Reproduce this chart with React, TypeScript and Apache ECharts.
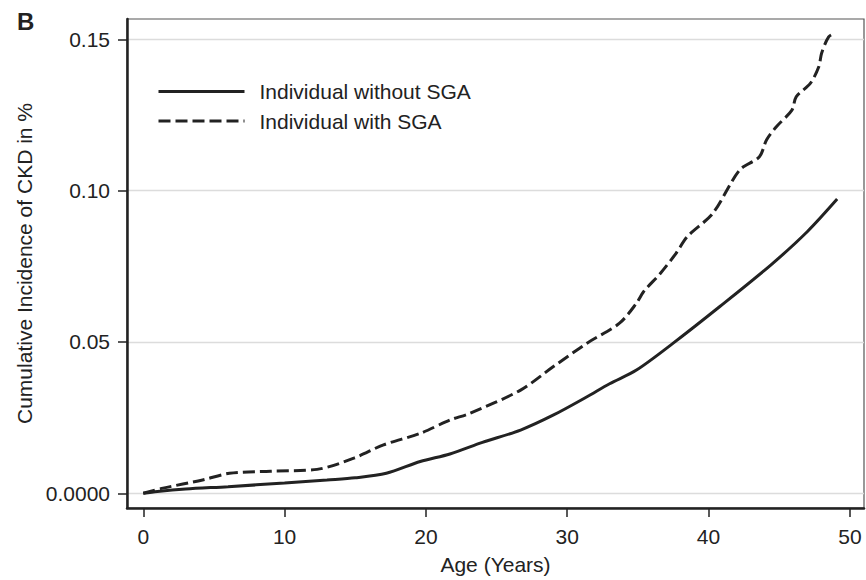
import React, { useEffect, useRef } from "react";
import * as echarts from "echarts";

// Cumulative incidence of CKD by age, read as [age, value] pairs
const withoutSgaAge = [0, 1, 3, 6, 10, 13, 15, 17.2, 19.6, 21.7, 24, 26.7, 29, 31.4, 33, 34.9, 37.5, 40.8, 44.4, 47, 49.1];
const withoutSgaVal = [0, 0.0006, 0.0014, 0.0022, 0.0034, 0.0044, 0.0051, 0.0066, 0.0105, 0.013, 0.0168, 0.0209, 0.0258, 0.0319, 0.0362, 0.0407, 0.0496, 0.0617, 0.0754, 0.0865, 0.0972];

const withSgaAge = [0, 1.4, 4.2, 6.1, 9, 12.3, 14.9, 17, 19.6, 21.7, 23.1, 26.7, 29, 31.4, 33.7, 34.9, 35.4, 36.6, 37.7, 38.5, 40.3, 42.2, 43.6, 44.1, 44.8, 45.9, 46.2, 47.2, 47.8, 48.0, 48.5, 48.95];
const withSgaVal = [0, 0.0017, 0.0044, 0.0066, 0.0073, 0.0079, 0.0116, 0.016, 0.0198, 0.0242, 0.0264, 0.0341, 0.0418, 0.0496, 0.0562, 0.0628, 0.0666, 0.0727, 0.0793, 0.0848, 0.0925, 0.1068, 0.1112, 0.1167, 0.1211, 0.1266, 0.131, 0.1354, 0.1409, 0.1454, 0.1508, 0.152];

const xTicks = [0, 10, 20, 30, 40, 50];
const yTicks = [0, 0.05, 0.1, 0.15];

const seriesNames = ["Individual without SGA", "Individual with SGA"];

const zip = (a: number[], b: number[]) => a.map((v, i) => [v, b[i]]);

const FONT = "Liberation Sans, Arial, sans-serif";
const INK = "#222";
const DASH = [12, 5];

export default function App() {
  const ref = useRef<HTMLDivElement>(null);

  useEffect(() => {
    if (!ref.current) return;
    const chart = echarts.init(ref.current, null, { renderer: "svg" });

    // Hand-drawn key: line sample followed by its label
    const key = (row: number, dashed: boolean) => ({
      type: "group",
      left: 156,
      top: 81 + row * 29.5,
      children: [
        {
          type: "line",
          shape: { x1: 0, y1: 12, x2: 86, y2: 12 },
          style: { stroke: INK, lineWidth: 3, lineDash: dashed ? DASH : null },
        },
        {
          type: "text",
          x: 101,
          y: 12,
          style: {
            text: seriesNames[row],
            font: `21px ${FONT}`,
            fill: INK,
            verticalAlign: "middle",
          },
        },
      ],
    });

    chart.setOption({
      animation: false,
      backgroundColor: "#fff",
      textStyle: { fontFamily: FONT },
      grid: {
        left: 127,
        right: 2,
        top: 19,
        bottom: 72,
        show: true,
        borderColor: "#555",
        borderWidth: 1.2,
      },
      graphic: [
        {
          type: "text",
          left: 17,
          top: 9,
          style: { text: "B", font: `bold 24px ${FONT}`, fill: INK },
        },
        key(0, false),
        key(1, true),
      ],
      xAxis: {
        type: "value",
        min: -1.15,
        max: 51,
        name: "Age (Years)",
        nameLocation: "middle",
        nameGap: 46,
        nameTextStyle: { fontSize: 21, color: INK, fontFamily: FONT },
        axisLine: { show: true, onZero: false, lineStyle: { color: INK, width: 2.5 } },
        axisTick: { show: true, length: 9, customValues: xTicks, lineStyle: { color: INK, width: 1.5 } },
        axisLabel: { customValues: xTicks, margin: 18, fontSize: 21, color: INK, fontFamily: FONT },
        splitLine: { show: false },
      },
      yAxis: {
        type: "value",
        min: -0.00486,
        max: 0.1567,
        name: "Cumulative Incidence of CKD in %",
        nameLocation: "middle",
        nameGap: 91,
        nameTextStyle: { fontSize: 21, color: INK, fontFamily: FONT },
        axisLine: { show: true, onZero: false, lineStyle: { color: INK, width: 2.5 } },
        axisTick: { show: true, length: 9, customValues: yTicks, lineStyle: { color: INK, width: 1.5 } },
        axisLabel: {
          customValues: yTicks,
          margin: 17,
          fontSize: 21,
          color: INK,
          fontFamily: FONT,
          formatter: (v: number) => (v === 0 ? "0.0000" : v.toFixed(2)),
        },
        splitLine: { show: false },
      },
      series: [
        {
          name: seriesNames[0],
          type: "line",
          data: zip(withoutSgaAge, withoutSgaVal),
          symbol: "none",
          smooth: 0.3,
          color: INK,
          lineStyle: { color: INK, width: 3 },
          markLine: {
            silent: true,
            symbol: "none",
            label: { show: false },
            lineStyle: { color: "#dcdcdc", width: 1.3, type: "solid" },
            data: yTicks.map((v) => ({ yAxis: v })),
            z: 0,
          },
        },
        {
          name: seriesNames[1],
          type: "line",
          data: zip(withSgaAge, withSgaVal),
          symbol: "none",
          smooth: 0.3,
          color: INK,
          lineStyle: { color: INK, width: 3, type: DASH },
        },
      ],
    });
    return () => chart.dispose();
  }, []);

  return (
    <div
      ref={ref}
      style={{ position: "fixed", left: 0, top: 0, width: 866, height: 580 }}
    />
  );
}
